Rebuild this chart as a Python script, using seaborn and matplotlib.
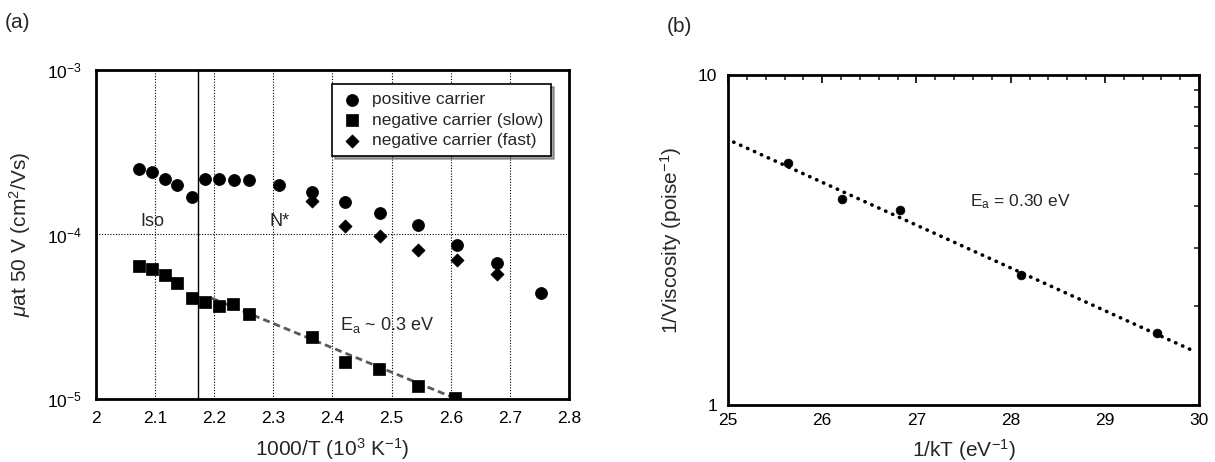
import numpy as np
import pandas as pd
import matplotlib
matplotlib.use("Agg")
import matplotlib.pyplot as plt
import seaborn as sns
from matplotlib.ticker import (LogLocator, NullLocator, MultipleLocator,
                               FixedLocator, FixedFormatter, NullFormatter)

# ---------------- Panel (a) data ----------------
pos_x = [2.072, 2.094, 2.116, 2.137, 2.162, 2.185, 2.208, 2.234, 2.259,
         2.310, 2.366, 2.422, 2.481, 2.545, 2.610, 2.679, 2.752]
pos_mu = [2.50e-4, 2.39e-4, 2.18e-4, 1.99e-4, 1.68e-4, 2.18e-4, 2.16e-4,
          2.14e-4, 2.14e-4, 1.99e-4, 1.81e-4, 1.58e-4, 1.35e-4, 1.15e-4,
          8.6e-5, 6.7e-5, 4.4e-5]
slow_x = [2.072, 2.094, 2.116, 2.137, 2.162, 2.185, 2.208, 2.232, 2.258,
          2.365, 2.421, 2.479, 2.544, 2.608]
slow_mu = [6.43e-5, 6.19e-5, 5.70e-5, 5.07e-5, 4.09e-5, 3.87e-5, 3.68e-5,
           3.77e-5, 3.28e-5, 2.37e-5, 1.67e-5, 1.52e-5, 1.20e-5, 1.01e-5]
fast_x = [2.366, 2.422, 2.481, 2.545, 2.610, 2.679]
fast_mu = [1.59e-4, 1.13e-4, 9.8e-5, 8.0e-5, 6.95e-5, 5.75e-5]
fit_a_x = [2.196, 2.61]
fit_a_mu = [4.1e-5, 1.0e-5]
transition_x = 2.172
a_xticks = [2.0, 2.1, 2.2, 2.3, 2.4, 2.5, 2.6, 2.7, 2.8]
a_xticklabels = ["2", "2.1", "2.2", "2.3", "2.4", "2.5", "2.6", "2.7", "2.8"]
legend_labels = ["positive carrier", "negative carrier (slow)",
                 "negative carrier (fast)"]

# ---------------- Panel (b) data ----------------
kT_inv = [25.64, 26.21, 26.83, 28.11, 29.55]
inv_visc = [5.43, 4.22, 3.91, 2.47, 1.65]
fit_b_x = [25.06, 29.96]
fit_b_y = [6.26, 1.45]
b_xticks = [25, 26, 27, 28, 29, 30]

sns.set_theme(style="white")
plt.rcParams["font.family"] = ["Liberation Sans", "DejaVu Sans"]
plt.rcParams["mathtext.fontset"] = "custom"
plt.rcParams["mathtext.rm"] = "Liberation Sans"
plt.rcParams["mathtext.it"] = "Liberation Sans:italic"
plt.rcParams["mathtext.bf"] = "Liberation Sans:bold"
plt.rcParams["axes.unicode_minus"] = False

fig = plt.figure(figsize=(12.15, 4.62), dpi=100)
axa = fig.add_axes([0.0790, 0.1364, 0.3893, 0.7121])
axb = fig.add_axes([0.5992, 0.1234, 0.3877, 0.7143])

# ---------------- Panel (a) ----------------
df_pos = pd.DataFrame({"x": pos_x, "mu": pos_mu})
df_slow = pd.DataFrame({"x": slow_x, "mu": slow_mu})
df_fast = pd.DataFrame({"x": fast_x, "mu": fast_mu})
df_fit_a = pd.DataFrame({"x": fit_a_x, "mu": fit_a_mu})

axa.set_yscale("log")
sns.lineplot(data=df_fit_a, x="x", y="mu", ax=axa, color="#5a5a5a",
             linestyle=(0, (2.5, 1.5)), linewidth=2.0, legend=False,
             label="_nolegend_", zorder=2)
sns.scatterplot(data=df_pos, x="x", y="mu", ax=axa, marker="o", s=75,
                color="black", edgecolor="black", linewidth=0.5,
                label=legend_labels[0], zorder=3)
sns.scatterplot(data=df_slow, x="x", y="mu", ax=axa, marker="s", s=85,
                color="black", edgecolor="black", linewidth=0.5,
                label=legend_labels[1], zorder=3)
sns.scatterplot(data=df_fast, x="x", y="mu", ax=axa, marker="D", s=45,
                color="black", edgecolor="black", linewidth=0.5,
                label=legend_labels[2], zorder=3)
axa.axvline(transition_x, color="black", linewidth=1.0, zorder=1)

axa.set_xlim(2.0, 2.8)
axa.set_ylim(1e-5, 1e-3)
axa.xaxis.set_major_locator(FixedLocator(a_xticks))
axa.xaxis.set_major_formatter(FixedFormatter(a_xticklabels))
axa.yaxis.set_major_locator(LogLocator(base=10, numticks=10))
axa.yaxis.set_minor_locator(NullLocator())
axa.xaxis.set_minor_locator(NullLocator())
axa.grid(True, which="major", linestyle=(0, (1, 1.5)), color="black",
         linewidth=0.8)
axa.tick_params(axis="both", which="both", length=0, labelsize=12.5,
                colors="black")
axa.tick_params(axis="x", pad=9)
axa.tick_params(axis="y", pad=10)
for sp in axa.spines.values():
    sp.set_linewidth(2.0)
    sp.set_color("black")
axa.set_xlabel("1000/T (10$^{3}$ K$^{-1}$)", fontsize=15, labelpad=7)
axa.set_ylabel(r"$\mu$at 50 V (cm$^{2}$/Vs)", fontsize=15, labelpad=10)

axa.text(2.096, 10 ** -3.924, "Iso", ha="center", va="center", fontsize=13)
axa.text(2.311, 10 ** -3.924, "N*", ha="center", va="center", fontsize=13)
axa.text(2.413, 10 ** -4.55, r"E$_{\mathrm{a}}$ ~ 0.3 eV", ha="left",
         va="center", fontsize=13)

leg = axa.legend(loc="upper right", bbox_to_anchor=(0.962, 0.956),
                 frameon=True, fancybox=False, shadow=True, fontsize=12.5,
                 handletextpad=0.45, borderpad=0.45, labelspacing=0.3,
                 handlelength=1.4, borderaxespad=0.0)
leg.get_frame().set_edgecolor("black")
leg.get_frame().set_linewidth(1.2)

# ---------------- Panel (b) ----------------
df_b = pd.DataFrame({"x": kT_inv, "y": inv_visc})
df_fit_b = pd.DataFrame({"x": fit_b_x, "y": fit_b_y})
axb.set_yscale("log")
sns.lineplot(data=df_fit_b, x="x", y="y", ax=axb, color="black",
             linestyle=(0, (0.1, 2.0)), linewidth=2.6, legend=False,
             zorder=2)
for ln in axb.lines:
    ln.set_dash_capstyle("round")
sns.scatterplot(data=df_b, x="x", y="y", ax=axb, marker="o", s=40,
                color="black", edgecolor="black", linewidth=0.5,
                legend=False, zorder=3)
axb.set_xlim(25, 30)
axb.set_ylim(1, 10)
axb.xaxis.set_major_locator(FixedLocator(b_xticks))
axb.xaxis.set_minor_locator(MultipleLocator(0.2))
axb.yaxis.set_major_locator(FixedLocator([1, 10]))
axb.yaxis.set_major_formatter(FixedFormatter(["1", "10"]))
axb.yaxis.set_minor_locator(LogLocator(base=10, subs=np.arange(2, 10),
                                       numticks=10))
axb.yaxis.set_minor_formatter(NullFormatter())
axb.tick_params(axis="both", which="major", direction="in", length=6,
                width=1.2, top=True, right=True, labelsize=12.5,
                colors="black")
axb.tick_params(axis="both", which="minor", direction="in", length=3.5,
                width=1.2, top=True, right=True)
axb.tick_params(axis="x", which="major", pad=6)
axb.tick_params(axis="y", which="major", pad=8)
axb.grid(False)
for sp in axb.spines.values():
    sp.set_linewidth(2.0)
    sp.set_color("black")
axb.set_xlabel("1/kT (eV$^{-1}$)", fontsize=15, labelpad=6)
axb.set_ylabel("1/Viscosity (poise$^{-1}$)", fontsize=15, labelpad=10)
axb.text(27.57, 4.13, r"E$_{\mathrm{a}}$ = 0.30 eV", ha="left",
         va="center", fontsize=12.5)

fig.text(0.004, 1 - 22 / 462, "(a)", ha="left", va="center", fontsize=15)
fig.text(0.549, 1 - 27 / 462, "(b)", ha="left", va="center", fontsize=15)

fig.savefig("out.png", dpi=100, facecolor="white")
